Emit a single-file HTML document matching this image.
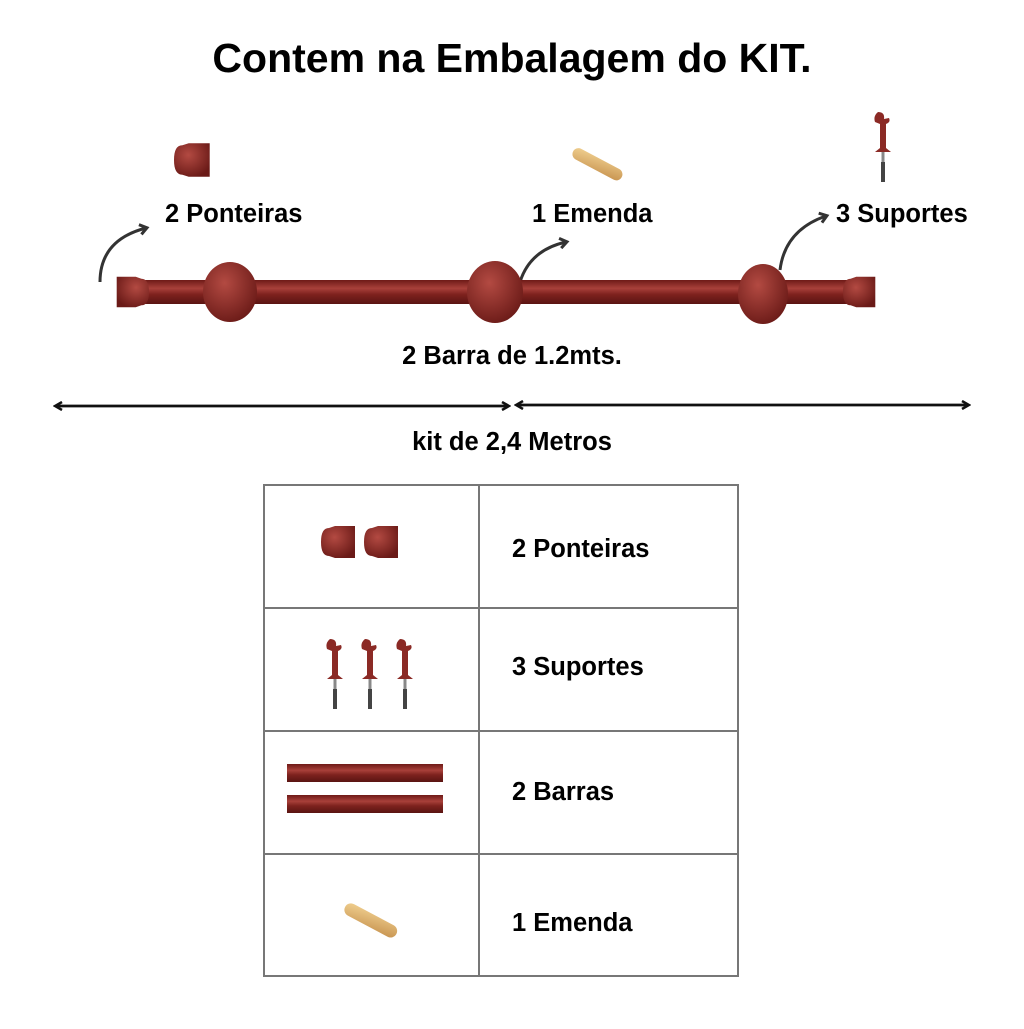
<!DOCTYPE html>
<html><head><meta charset="utf-8"><style>
body{margin:0;background:#fff;}
svg text{font-family:"Liberation Sans",Arial,sans-serif;font-weight:bold;fill:#000;}
</style></head><body>
<svg width="1024" height="1024" viewBox="0 0 1024 1024" xmlns="http://www.w3.org/2000/svg">
<defs>
<linearGradient id="rod" x1="0" y1="0" x2="0" y2="1">
<stop offset="0" stop-color="#6e1a17"/><stop offset="0.35" stop-color="#a8403a"/><stop offset="0.6" stop-color="#7e221e"/><stop offset="1" stop-color="#5a1412"/></linearGradient>
<radialGradient id="ball" cx="0.4" cy="0.35" r="0.7">
<stop offset="0" stop-color="#b34a42"/><stop offset="1" stop-color="#6a1a17"/></radialGradient>
<linearGradient id="wood" x1="0" y1="0" x2="1" y2="1"><stop offset="0" stop-color="#f0cf8f"/><stop offset="1" stop-color="#c89450"/></linearGradient>
<marker id="ah" markerWidth="10" markerHeight="10" refX="7" refY="5" orient="auto" markerUnits="userSpaceOnUse"><path d="M1,1 L8,5 L1,9" fill="none" stroke="#111" stroke-width="2.5"/></marker>
<marker id="ah2" markerWidth="14" markerHeight="14" refX="8" refY="7" orient="auto" markerUnits="userSpaceOnUse"><path d="M2,2 L9,7 L2,12" fill="none" stroke="#333" stroke-width="3"/></marker>
<g id="cap"><path d="M-12,-14 Q-20,-14 -20,0 Q-20,14 -12,14 L-6,16 L14,16 L14,-16 L-6,-16 Z" fill="url(#ball)"/></g>
<g id="sup"><path d="M-5,-20 Q-10,-16 -8,-10 L-3,-8 L-3,16 L-8,20 L8,20 L3,16 L3,-8 Q8,-10 6,-14 L1,-13 Q2,-20 -5,-20 Z" fill="#8b2a25"/><rect x="-1.5" y="20" width="3" height="10" fill="#888"/><rect x="-2" y="30" width="4" height="20" fill="#444"/></g>
</defs>
<text x="512" y="72" font-size="41" text-anchor="middle">Contem na Embalagem do KIT.</text>
<use href="#cap" transform="translate(195,160) scale(1.05)"/>
<rect x="570" y="158" width="55" height="12" rx="6" fill="url(#wood)" transform="rotate(28 597 164)"/>
<use href="#sup" transform="translate(883,132)"/>
<text x="165" y="222" font-size="25.5">2 Ponteiras</text>
<text x="532" y="222" font-size="25.5">1 Emenda</text>
<text x="836" y="222" font-size="25.5">3 Suportes</text>
<path d="M100,282 Q100,240 146,228" fill="none" stroke="#333" stroke-width="3" marker-end="url(#ah2)"/>
<path d="M520,282 Q530,250 566,242" fill="none" stroke="#333" stroke-width="3" marker-end="url(#ah2)"/>
<path d="M780,270 Q785,230 826,216" fill="none" stroke="#333" stroke-width="3" marker-end="url(#ah2)"/>
<rect x="125" y="280" width="745" height="24" fill="url(#rod)"/>
<use href="#cap" transform="translate(130,292) scale(-1,1) scale(0.95)"/>
<use href="#cap" transform="translate(862,292) scale(0.95)"/>
<ellipse cx="230" cy="292" rx="27" ry="30" fill="url(#ball)"/>
<ellipse cx="495" cy="292" rx="28" ry="31" fill="url(#ball)"/>
<ellipse cx="763" cy="294" rx="25" ry="30" fill="url(#ball)"/>
<text x="512" y="364" font-size="25.5" text-anchor="middle">2 Barra de 1.2mts.</text>
<line x1="56" y1="406" x2="508" y2="406" stroke="#111" stroke-width="2.5" marker-end="url(#ah)"/>
<line x1="508" y1="406" x2="56" y2="406" stroke="#111" stroke-width="2.5" marker-end="url(#ah)"/>
<line x1="517" y1="405" x2="968" y2="405" stroke="#111" stroke-width="2.5" marker-end="url(#ah)"/>
<line x1="968" y1="405" x2="517" y2="405" stroke="#111" stroke-width="2.5" marker-end="url(#ah)"/>
<text x="512" y="450" font-size="25.5" text-anchor="middle">kit de 2,4 Metros</text>
<g stroke="#777" stroke-width="2" fill="none">
<rect x="264" y="485" width="474" height="491"/>
<line x1="479" y1="485" x2="479" y2="976"/>
<line x1="264" y1="608" x2="738" y2="608"/>
<line x1="264" y1="731" x2="738" y2="731"/>
<line x1="264" y1="854" x2="738" y2="854"/>
</g>
<use href="#cap" transform="translate(341,542)"/>
<use href="#cap" transform="translate(384,542)"/>
<use href="#sup" transform="translate(335,659)"/>
<use href="#sup" transform="translate(370,659)"/>
<use href="#sup" transform="translate(405,659)"/>
<rect x="287" y="764" width="156" height="18" fill="url(#rod)"/>
<rect x="287" y="795" width="156" height="18" fill="url(#rod)"/>
<rect x="342" y="914" width="58" height="13" rx="6.5" fill="url(#wood)" transform="rotate(28 371 920)"/>
<text x="512" y="557" font-size="25.5">2 Ponteiras</text>
<text x="512" y="675" font-size="25.5">3 Suportes</text>
<text x="512" y="800" font-size="25.5">2 Barras</text>
<text x="512" y="931" font-size="25.5">1 Emenda</text>
</svg>
</body></html>
